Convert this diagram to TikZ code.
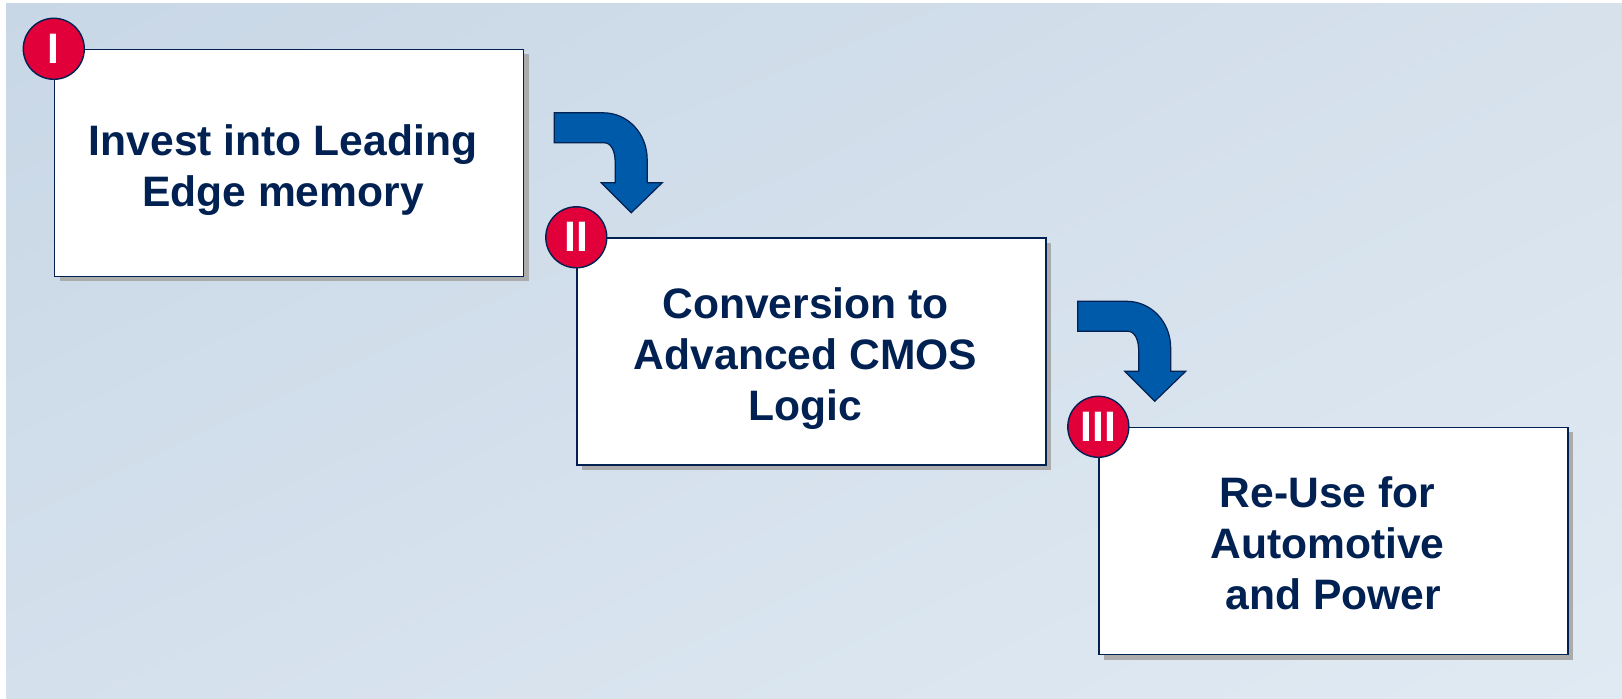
\documentclass[tikz,border=0pt]{standalone}
\usepackage{fontspec}
\setmainfont{Liberation Sans}
\usetikzlibrary{shadows, shadings}
\definecolor{navy}{RGB}{0,33,82}
\definecolor{badgered}{RGB}{226,0,58}
\definecolor{arrowblue}{RGB}{0,90,170}
\definecolor{bgtl}{RGB}{200,215,230}
\definecolor{bgtr}{RGB}{214,225,236}
\definecolor{bgbl}{RGB}{212,224,236}
\definecolor{bgbr}{RGB}{224,234,243}

\begin{document}
\begin{tikzpicture}[
    x=0.5pt, y=-0.5pt,
    every node/.style={font=\fontsize{21.3}{25.5}\selectfont\bfseries, text=navy},
    stepbox/.style={draw=navy, line width=0.7pt, fill=white, inner sep=0pt,
        minimum width=234.5pt, minimum height=113.5pt,
        drop shadow={shadow xshift=2.5pt, shadow yshift=-2.5pt, fill=black!33, opacity=1}},
    steptext/.style={align=center, inner sep=0pt, text depth=0pt},
    badge/.style={circle, draw=navy, line width=0.7pt, fill=badgered,
        text=white, minimum size=30.5pt, inner sep=0pt},
    turnarrow/.pic={
        \draw[fill=arrowblue, draw=navy, line width=0.6pt, line join=miter]
            (0,0) -- (49,0) .. controls (73,0) and (93,20) .. (93,47)
            -- (93,70) -- (108,70) -- (77,100) -- (47,70) -- (61,70)
            -- (61,50) .. controls (61,38) and (57,30) .. (50,30)
            -- (0,30) -- cycle;
    },
]

% background
\useasboundingbox (0,0) rectangle (1622,699);
\shade[upper left=bgtl, upper right=bgtr, lower left=bgbl, lower right=bgbr]
    (6,4) rectangle (1622,699);

% the three steps, going down to the right
\node[stepbox] (box1) at (289,163) {};
\node[stepbox] (box2) at (811.5,351.5) {};
\node[stepbox] (box3) at (1333.5,541) {};

% texts (set a little left of the box centres)
\node[steptext] (text1) at ([shift={(-6,2.5)}]box1.center) {Invest into Leading\\Edge memory};
\node[steptext] (text2) at ([shift={(-6,2.5)}]box2.center) {Conversion to\\Advanced CMOS\\Logic};
\node[steptext] (text3) at ([shift={(-6,2.5)}]box3.center) {Re-Use for\\Automotive\\\hspace*{0.28em}and Power};

% turning arrows between the steps
\pic at ([shift={(30,64)}]box1.north east) {turnarrow};
\pic at ([shift={(31,64)}]box2.north east) {turnarrow};

% numbered badges on the corners
\node[badge] (num1) at (box1.north west) {I};
\node[badge] (num2) at (box2.north west) {II};
\node[badge] (num3) at (box3.north west) {III};

\end{tikzpicture}
\end{document}
